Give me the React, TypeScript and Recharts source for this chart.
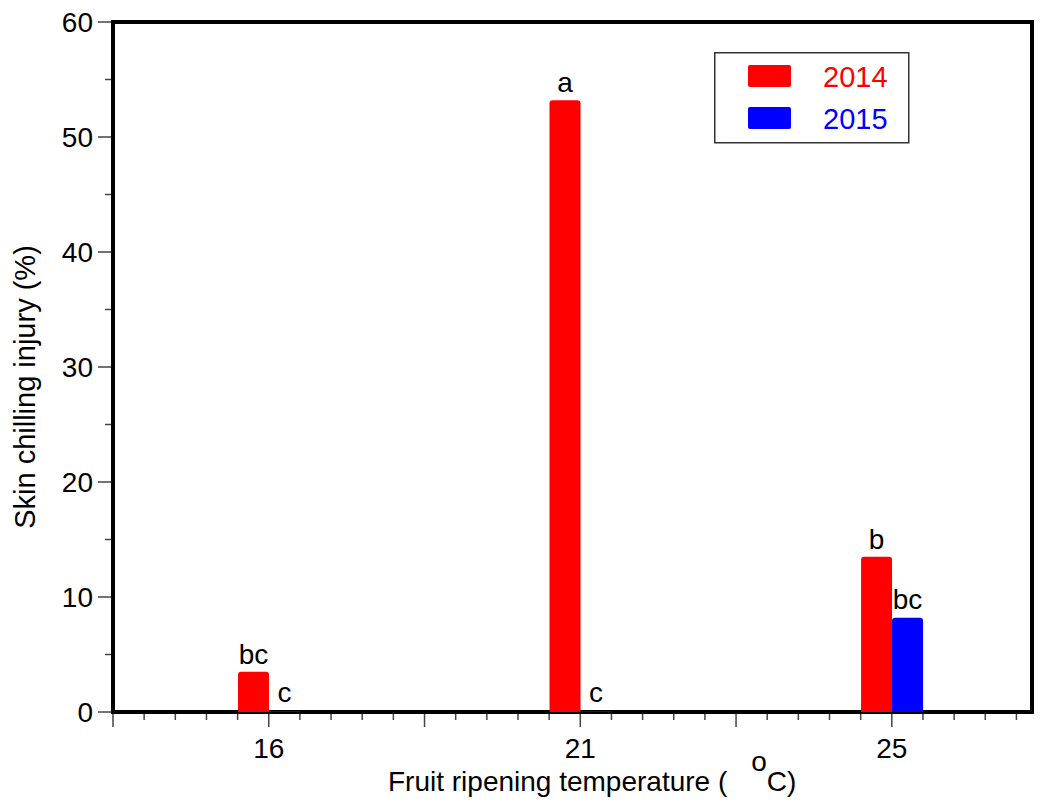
import { BarChart, Bar, XAxis, YAxis, ReferenceArea, LabelList, Legend, Label } from 'recharts';

const temperatures = ['16', '21', '25'];
const injury2014 = [3.5, 53.2, 13.5];
const injury2015 = [0, 0, 8.2];
const letters2014 = ['bc', 'a', 'b'];
const letters2015 = ['c', 'c', 'bc'];
const yTicks = [0, 5, 10, 15, 20, 25, 30, 35, 40, 45, 50, 55, 60];
const seriesNames = ['2014', '2015'];
const seriesColors = ['#ff0000', '#0000ff'];

// categories sit on every second major tick of a numeric axis
const data = temperatures.map((t, i) => ({
  temp: t,
  pos: i * 2 + 1,
  y2014: injury2014[i],
  y2015: injury2015[i],
  l2014: letters2014[i],
  l2015: letters2015[i],
}));
const xTicks = Array.from({ length: 30 }, (_, i) => Math.round(i * 2) / 10);

const FONT = '"Liberation Sans", Arial, sans-serif';

function XTick({ x, y, payload }: any) {
  const v = payload.value;
  const major = Math.abs(v - Math.round(v)) < 1e-6;
  const row = data.find((d) => d.pos === Math.round(v));
  return (
    <g>
      <line x1={x} x2={x} y1={y + 2} y2={y + (major ? 15 : 8)} stroke="#444" strokeWidth={1.5} />
      {major && row && (
        <text x={x} y={y + 46} textAnchor="middle" fontSize={28} fill="#000">
          {row.temp}
        </text>
      )}
    </g>
  );
}

function YTick({ x, y, payload }: any) {
  const v = payload.value;
  const major = v % 10 === 0;
  return (
    <g>
      <line x1={x - (major ? 15 : 8)} x2={x - 2} y1={y} y2={y} stroke="#444" strokeWidth={1.5} />
      {major && (
        <text x={x - 20} y={y} dy="0.35em" textAnchor="end" fontSize={28} fill="#000">
          {v}
        </text>
      )}
    </g>
  );
}

function LegendBox() {
  return (
    <svg width={196} height={92}>
      <rect x={0.75} y={0.75} width={194} height={90} fill="#fff" stroke="#333" strokeWidth={1.5} />
      {seriesNames.map((name, i) => (
        <g key={name}>
          <rect x={34} y={13 + i * 42} width={43} height={22} rx={2} fill={seriesColors[i]} />
          <text x={109} y={35 + i * 42} fontSize={29} fill={seriesColors[i]} fontFamily={FONT}>
            {name}
          </text>
        </g>
      ))}
    </svg>
  );
}

export default function App() {
  return (
    <div style={{ position: 'absolute', left: 0, top: 0, fontFamily: FONT, background: '#fff' }}>
      <BarChart
        width={1046}
        height={803}
        data={data}
        margin={{ top: 22, right: 14, bottom: 0, left: 0 }}
        barGap={0}
        barSize={31}
      >
        <XAxis
          type="number"
          dataKey="pos"
          domain={[0, 5.9]}
          ticks={xTicks}
          interval={0}
          height={91}
          axisLine={false}
          tickLine={false}
          tickSize={0}
          tickMargin={0}
          tick={<XTick />}
        >
          <Label
            content={({ viewBox }: any) => (
              <text x={viewBox.x + 275} y={viewBox.y + 79} fontSize={28} fill="#000">
                Fruit ripening temperature (
                <tspan dx={24} dy={-20}>o</tspan>
                <tspan dy={20}>C)</tspan>
              </text>
            )}
          />
        </XAxis>
        <YAxis
          type="number"
          domain={[0, 60]}
          ticks={yTicks}
          interval={0}
          width={113}
          axisLine={false}
          tickLine={false}
          tickSize={0}
          tickMargin={0}
          tick={<YTick />}
        >
          <Label
            content={({ viewBox }: any) => {
              const cx = 35;
              const cy = viewBox.y + viewBox.height / 2 + 20;
              return (
                <text
                  x={cx}
                  y={cy}
                  transform={`rotate(-90, ${cx}, ${cy})`}
                  textAnchor="middle"
                  fontSize={29}
                  fill="#000"
                >
                  Skin chilling injury (%)
                </text>
              );
            }}
          />
        </YAxis>
        <Legend
          layout="horizontal"
          verticalAlign="middle"
          align="center"
          content={() => <LegendBox />}
          wrapperStyle={{ position: 'absolute', left: 714, top: 52, width: 196, height: 92 }}
        />
        <Bar dataKey="y2014" name="2014" fill={seriesColors[0]} radius={[3, 3, 0, 0]} isAnimationActive={false}>
          <LabelList dataKey="l2014" position="top" offset={8} fontSize={28} fill="#000" />
        </Bar>
        <Bar
          dataKey="y2015"
          name="2015"
          fill={seriesColors[1]}
          radius={[3, 3, 0, 0]}
          minPointSize={1}
          isAnimationActive={false}
        >
          <LabelList dataKey="l2015" position="top" offset={9} fontSize={28} fill="#000" />
        </Bar>
        <ReferenceArea x1={0} x2={5.9} y1={0} y2={60} fill="none" stroke="#000" strokeWidth={4} ifOverflow="visible" />
      </BarChart>
    </div>
  );
}
